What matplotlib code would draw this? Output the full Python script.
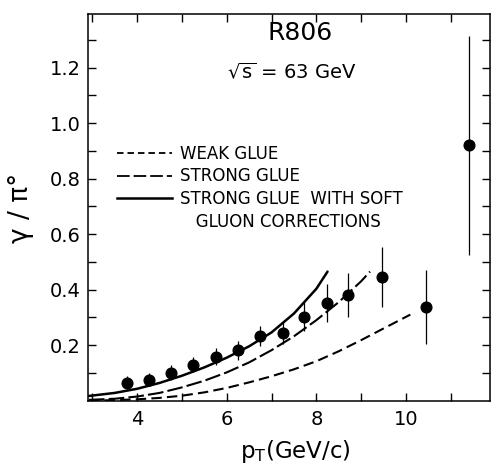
import matplotlib
matplotlib.use("Agg")
import matplotlib.pyplot as plt
from matplotlib.lines import Line2D
from matplotlib.ticker import FixedLocator

plt.rcParams["font.family"] = ["DejaVu Sans"]
plt.rcParams["mathtext.fontset"] = "dejavusans"

# R806 gamma / pi0 ratio measurements
pt = [3.76, 4.26, 4.76, 5.25, 5.76, 6.25, 6.74, 7.25, 7.72, 8.23, 8.70, 9.47, 10.46, 11.40]
ratio = [0.065, 0.076, 0.101, 0.130, 0.159, 0.181, 0.232, 0.244, 0.303, 0.353, 0.380, 0.444, 0.337, 0.920]
ratio_err = [0.024, 0.022, 0.028, 0.028, 0.030, 0.035, 0.036, 0.039, 0.053, 0.069, 0.080, 0.108, 0.132, 0.395]

# QCD predictions
weak_pt = [2.92, 3.5, 4.0, 4.5, 5.0, 5.5, 6.0, 6.5, 7.0, 7.5, 8.0, 8.5, 9.0, 9.5, 10.1]
weak_ratio = [0.0, 0.002, 0.005, 0.010, 0.018, 0.030, 0.046, 0.066, 0.088, 0.113, 0.142, 0.178, 0.218, 0.260, 0.310]

strong_pt = [2.92, 3.5, 4.0, 4.5, 5.0, 5.5, 6.0, 6.5, 7.0, 7.5, 8.0, 8.5, 9.0, 9.2]
strong_ratio = [0.003, 0.007, 0.015, 0.028, 0.048, 0.072, 0.102, 0.138, 0.182, 0.232, 0.290, 0.355, 0.430, 0.465]

soft_pt = [2.92, 3.5, 4.0, 4.5, 5.0, 5.5, 6.0, 6.5, 7.0, 7.5, 8.0, 8.25]
soft_ratio = [0.017, 0.028, 0.043, 0.064, 0.090, 0.120, 0.155, 0.196, 0.246, 0.314, 0.403, 0.465]

legend_labels = ["WEAK GLUE", "STRONG GLUE", "STRONG GLUE  WITH SOFT", "   GLUON CORRECTIONS"]

fig = plt.figure(figsize=(4.92, 4.72), dpi=100)
ax = fig.add_axes([0.1789, 0.1511, 0.8171, 0.8193])

ax.plot(weak_pt, weak_ratio, color="black", lw=1.5, dashes=(5.0, 2.5))
ax.plot(strong_pt, strong_ratio, color="black", lw=1.5, dashes=(7.5, 2.0))
ax.plot(soft_pt, soft_ratio, color="black", lw=1.8, solid_capstyle="round")

ax.errorbar(pt, ratio, yerr=ratio_err, fmt="o", color="black", ms=7.7,
            elinewidth=0.9, capsize=0)

ax.set_xlim(2.9, 11.88)
ax.set_ylim(0, 1.393)

ax.xaxis.set_major_locator(FixedLocator([4, 6, 8, 10]))
ax.xaxis.set_minor_locator(FixedLocator([3, 5, 7, 9, 11]))
ax.yaxis.set_major_locator(FixedLocator([0.2, 0.4, 0.6, 0.8, 1.0, 1.2]))
ax.yaxis.set_minor_locator(FixedLocator([0.1, 0.3, 0.5, 0.7, 0.9, 1.1, 1.3]))
ax.yaxis.set_major_formatter(plt.FuncFormatter(lambda v, p: f"{v:.1f}"))

ax.tick_params(which="both", direction="in", top=True, right=True,
               length=5.5, width=1.0, labelsize=14, color="black")
ax.tick_params(axis="y", pad=5)
ax.tick_params(axis="x", pad=7)
for s in ax.spines.values():
    s.set_linewidth(1.1)

ax.text(0.527, 0.951, "R806", transform=ax.transAxes, ha="center", va="center",
        fontsize=18)
ax.text(0.507, 0.850, r"$\sqrt{\mathregular{s}}$ = 63 GeV", transform=ax.transAxes,
        ha="center", va="center", fontsize=14)

handles = [
    Line2D([], [], color="black", lw=1.3, dashes=(3.6, 2.2)),
    Line2D([], [], color="black", lw=1.3, dashes=(7.0, 2.2)),
    Line2D([], [], color="black", lw=1.8),
    Line2D([], [], color="none"),
]
ax.legend(handles, legend_labels, loc="upper left", bbox_to_anchor=(0.072, 0.662),
          frameon=False, borderpad=0, borderaxespad=0, fontsize=12,
          handlelength=3.3, handletextpad=0.5, labelspacing=0.28)

fig.text(21 / 492, 1 - 208 / 472, "γ / π°", rotation=90, ha="center", va="center",
         fontsize=19)
fig.text(295 / 492, 1 - 458 / 472, r"p$_\mathregular{T}$(GeV/c)", ha="center",
         va="baseline", fontsize=16.5)

fig.savefig("out.png", dpi=100)
